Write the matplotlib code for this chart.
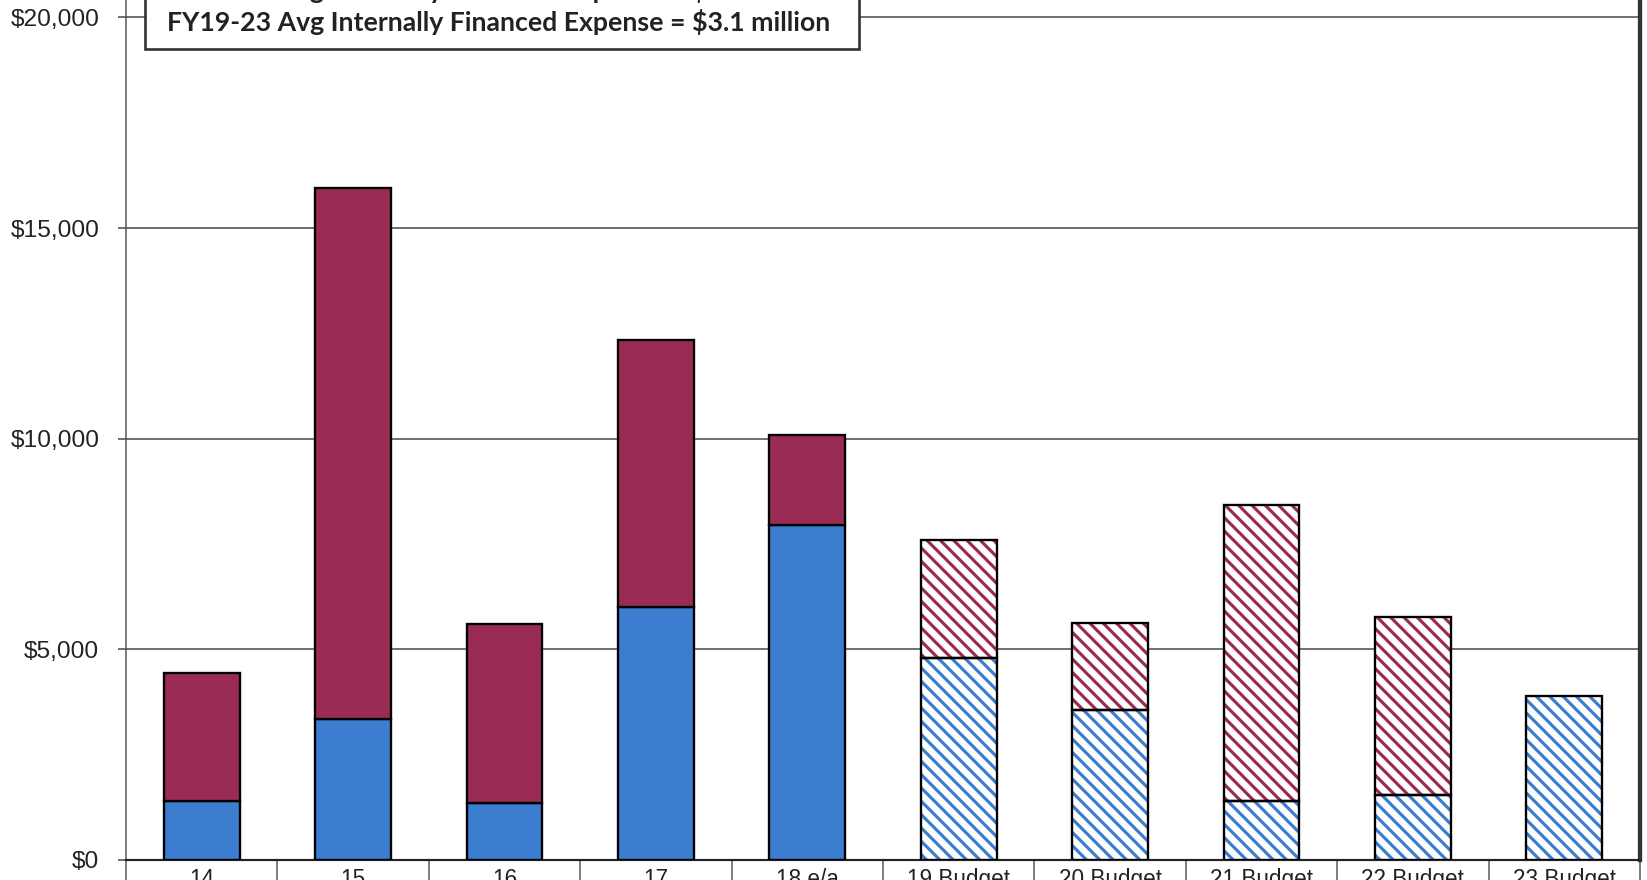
import numpy as np
import matplotlib.pyplot as plt
from matplotlib.patches import Rectangle
from matplotlib.ticker import FuncFormatter, FixedLocator

# fiscal years and spending ($ thousands)
years = ["14", "15", "16", "17", "18 e/a",
         "19 Budget", "20 Budget", "21 Budget", "22 Budget", "23 Budget"]
bonded = [1400, 3350, 1350, 6000, 7950, 4800, 3550, 1400, 1550, 3900]
internal = [3050, 12600, 4250, 6350, 2150, 2800, 2080, 7030, 4230, 0]
is_budget = [False, False, False, False, False, True, True, True, True, True]

box_lines = ["FY14-18 Avg Internally Financed Expense = $5.7 million",
             "FY19-23 Avg Internally Financed Expense = $3.1 million"]

blue = "#3b7ed0"
maroon = "#9a2b55"

plt.rcParams["font.family"] = ["Liberation Sans", "DejaVu Sans"]
plt.rcParams["hatch.linewidth"] = 1.9

W, H, DPI = 1647, 880, 120
fig = plt.figure(figsize=(W / DPI, H / DPI), dpi=DPI)
fig.patch.set_facecolor("white")

ax = fig.add_axes([126 / W, 20 / H, (1640 - 126) / W, 1.028 - 20 / H])

x = np.arange(len(years))
width = 0.5
bonded = np.array(bonded)
internal = np.array(internal)

for i in x:
    if is_budget[i]:
        # hatched bars: stripes in series colour, black outline on top
        ax.bar(i, bonded[i], width, color="white", edgecolor=blue,
               hatch="\\\\\\", linewidth=0, zorder=3)
        if internal[i] > 0:
            ax.bar(i, internal[i], width, bottom=bonded[i], color="white",
                   edgecolor=maroon, hatch="\\\\\\", linewidth=0, zorder=3)
        ax.bar(i, bonded[i], width, fill=False, edgecolor="black",
               linewidth=1.4, zorder=4)
        if internal[i] > 0:
            ax.bar(i, internal[i], width, bottom=bonded[i], fill=False,
                   edgecolor="black", linewidth=1.4, zorder=4)
    else:
        ax.bar(i, bonded[i], width, color=blue, edgecolor="black",
               linewidth=1.4, zorder=3)
        ax.bar(i, internal[i], width, bottom=bonded[i], color=maroon,
               edgecolor="black", linewidth=1.4, zorder=3)

ax.set_xlim(-0.5, len(years) - 0.5)
ax.set_ylim(0, 21000)

ax.set_yticks(np.arange(0, 20001, 5000))
ax.yaxis.set_major_formatter(FuncFormatter(lambda v, p: "${:,.0f}".format(v)))
ax.tick_params(axis="y", length=5, width=0.9, color="#444", pad=11,
               labelsize=14.7, labelcolor="#222")
ax.yaxis.grid(True, color="#444", linewidth=0.9, zorder=0)

# category labels sit in cells split by long ticks below the axis
ax.set_xticks(x)
ax.set_xticklabels(years)
ax.xaxis.set_minor_locator(FixedLocator(np.arange(-0.5, len(years), 1.0)))
ax.tick_params(axis="x", which="major", length=0, pad=5,
               labelsize=13.5, labelcolor="#222")
ax.tick_params(axis="x", which="minor", length=40, width=0.9, color="#555")

ax.spines["top"].set_visible(False)
ax.spines["left"].set_color("#555")
ax.spines["left"].set_linewidth(0.9)
ax.spines["bottom"].set_color("#222")
ax.spines["bottom"].set_linewidth(1.3)
ax.spines["right"].set_color("#333")
ax.spines["right"].set_linewidth(2.6)

# averages box at the top left
box = Rectangle((145 / W, 1 - 49 / H), (859 - 145) / W, 0.2,
                transform=fig.transFigure, facecolor="white",
                edgecolor="#333", linewidth=1.6, zorder=10)
fig.add_artist(box)
fig.text(167 / W, 1 + 1 / H, box_lines[0], fontsize=16, fontweight="bold",
         family=["Lato", "DejaVu Sans"], color="#222", va="baseline",
         zorder=11)
fig.text(167 / W, 1 - 31 / H, box_lines[1], fontsize=16, fontweight="bold",
         family=["Lato", "DejaVu Sans"], color="#222", va="baseline",
         zorder=11)

fig.savefig("out.png", dpi=DPI)
